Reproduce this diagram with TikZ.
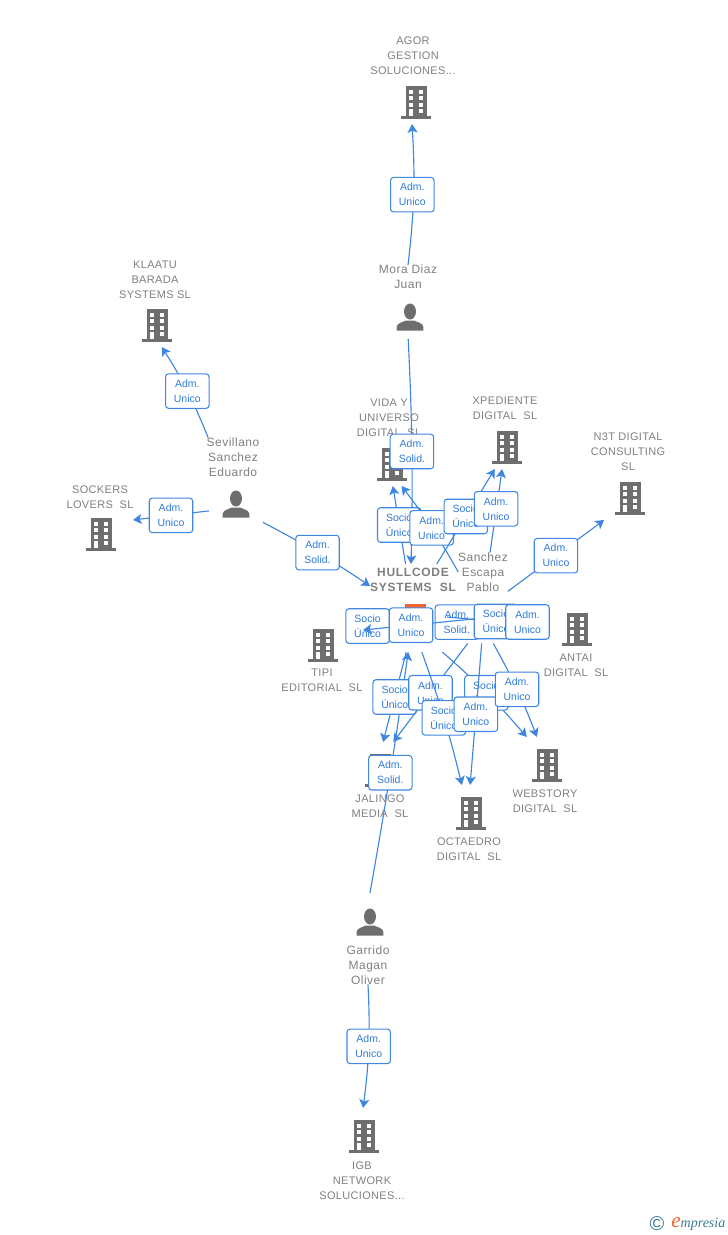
\documentclass[tikz,border=0pt]{standalone}
\usepackage{fontspec}
\usepackage{tikz}
\usetikzlibrary{arrows.meta}
\setmainfont{Liberation Sans}
\newfontfamily\firmfont[LetterSpace=3]{Liberation Sans}
\newfontfamily\personfont[LetterSpace=4]{Liberation Sans}
\newfontfamily\mainfirmfont[LetterSpace=6]{Liberation Sans}
\newfontfamily\brandfont{Liberation Serif}
\definecolor{iconGray}{HTML}{6E6E6E}
\definecolor{textGray}{HTML}{7F7F7F}
\definecolor{edgeBlue}{HTML}{3F86E0}
\definecolor{badgeText}{HTML}{2F7BDA}
\definecolor{mainOrange}{HTML}{F4622E}
\definecolor{brandBlue}{HTML}{3A7A96}
\newcommand{\firmicon}[1]{%
	\begin{scope}[shift={(path picture bounding box.center)}]
		\fill[#1] (-10.5,-13.5) rectangle (10.5,17);
		\fill[#1] (-15,16.5) rectangle (15,19.5);
		\foreach \rowy in {-9.5,-3,3.5} {
			\fill[white] (-7.2,\rowy) rectangle +(4.4,4.3);
			\fill[white] (2.8,\rowy) rectangle +(4.4,4.3);
		}
		\fill[white] (-7.2,9.7) rectangle (-2.8,16.5);
		\fill[white] (2.8,9.7) rectangle (7.2,14);
	\end{scope}}
\newcommand{\personicon}{%
	\begin{scope}[shift={(path picture bounding box.center)}]
		\fill[iconGray] (0,-2) ellipse [x radius=6,y radius=8];
		\fill[iconGray] (-13.3,17) -- (-13.3,13.5) .. controls (-13,9.5) and (-8,9) .. (-4,7) -- (4,7) .. controls (8,9) and (13,9.5) .. (13.3,13.5) -- (13.3,17) -- cycle;
	\end{scope}}
\tikzset{
	firm/.style={inner sep=0pt,outer sep=0pt,minimum width=48pt,minimum height=37.5pt,path picture={\firmicon{iconGray}}},
	mainfirm/.style={inner sep=0pt,outer sep=0pt,minimum width=48pt,minimum height=52.5pt,path picture={\firmicon{mainOrange}}},
	person/.style={inner sep=0pt,outer sep=0pt,minimum width=40.5pt,minimum height=38.25pt,path picture={\personicon}},
	firmlabel/.style={inner sep=0pt,outer sep=0pt,align=center,text=textGray,font=\firmfont\fontsize{8.25pt}{11.25pt}\selectfont},
	mainlabel/.style={inner sep=0pt,outer sep=0pt,align=center,text=textGray,minimum width=63pt,minimum height=24pt,font=\mainfirmfont\bfseries\fontsize{9pt}{11.25pt}\selectfont},
	personlabel/.style={inner sep=0pt,outer sep=0pt,align=center,text=textGray,font=\personfont\fontsize{9pt}{11.25pt}\selectfont},
	badge/.style={draw=edgeBlue,fill=white,line width=.8pt,rounded corners=2.25pt,inner sep=0pt,outer sep=0pt,minimum width=32.6pt,minimum height=25.9pt,align=center,text=badgeText,font=\fontsize{7.875pt}{11.25pt}\selectfont}
}
\begin{document}
\begin{tikzpicture}[x=0.75pt,y=-0.75pt,>/.tip={Stealth[length=6.5pt,width=7.5pt,inset=1.5pt]},every edge/.append style={draw=edgeBlue,line width=.85pt}]
	\useasboundingbox (0,0) rectangle (728,1235);

	% companies
	\draw (416,99) node (agor) [firm] {};
	\node [firmlabel] (agorlabel) at (413,56) {AGOR\\GESTION\\SOLUCIONES...};
	\draw (157,322) node (klaatu) [firm] {};
	\node [firmlabel] (klaatulabel) at (155,280) {KLAATU\\BARADA\\SYSTEMS SL};
	\draw (101,531) node (sockers) [firm] {};
	\node [firmlabel] (sockerslabel) at (100,497) {SOCKERS\\LOVERS~~SL};
	\draw (392,461) node (vida) [firm] {};
	\node [firmlabel] (vidalabel) at (389,418) {VIDA Y\\UNIVERSO\\DIGITAL~~SL};
	\draw (507,444) node (xpediente) [firm] {};
	\node [firmlabel] (xpedientelabel) at (505,408.5) {XPEDIENTE\\DIGITAL~~SL};
	\draw (630,495) node (nconsulting) [firm] {};
	\node [firmlabel] (nconsultinglabel) at (628,452) {N3T DIGITAL\\CONSULTING\\SL};
	\draw (323,642) node (tipi) [firm] {};
	\node [firmlabel] (tipilabel) at (322,680.5) {TIPI\\EDITORIAL~~SL};
	\draw (577,626) node (antai) [firm] {};
	\node [firmlabel] (antailabel) at (576,665.5) {ANTAI\\DIGITAL~~SL};
	\draw (547,762) node (webstory) [firm] {};
	\node [firmlabel] (webstorylabel) at (545,801.5) {WEBSTORY\\DIGITAL~~SL};
	\draw (471,810) node (octaedro) [firm] {};
	\node [firmlabel] (octaedrolabel) at (469,849.5) {OCTAEDRO\\DIGITAL~~SL};
	\draw (380,767) node (jalingo) [firm] {};
	\node [firmlabel] (jalingolabel) at (380,806.5) {JALINGO\\MEDIA~~SL};
	\draw (364,1133) node (igb) [firm] {};
	\node [firmlabel] (igblabel) at (362,1181) {IGB\\NETWORK\\SOLUCIONES...};
	\draw (415,617) node (hullcode) [mainfirm] {};
	\node [mainlabel] (hullcodelabel) at (413,580) {HULLCODE\\SYSTEMS~~SL};

	% people
	\draw (410,313.5) node (mora) [person] {};
	\node [personlabel] (moralabel) at (408,277) {Mora Diaz\\Juan};
	\draw (236,500.5) node (sevillano) [person] {};
	\node [personlabel] (sevillanolabel) at (233,457) {Sevillano\\Sanchez\\Eduardo};
	\draw (483,618) node (sanchez) [person] {};
	\node [personlabel] (sanchezlabel) at (483,572) {Sanchez\\Escapa\\Pablo};
	\draw (370,918.5) node (garrido) [person] {};
	\node [personlabel] (garridolabel) at (368,965) {Garrido\\Magan\\Oliver};

	\coordinate (tipiin) at (363,630);

	% upper half
	\path[->] (moralabel.north) edge [bend right=5] node [badge,xshift=-1pt] (moraagor) {Adm.\\Unico} (agor.261);
	\path[->] (sevillanolabel.142) edge [bend right=5] node [badge] (sevklaatu) {Adm.\\Unico} (klaatu.281);
	\path[->] (sevillano.201) edge node [badge] (sevsockers) {Adm.\\Unico} (sockers.19);
	\path[->] (sevillano.321) edge [bend left=3] node [badge] (sevhull) {Adm.\\Solid.} (hullcodelabel.188);
	\path[->] (mora.266) edge [bend left=2] node [badge] (morahull) {Adm.\\Solid.} (hullcodelabel.97);
	\path[->] (hullcodelabel.115) edge node [badge] (hullvida) {Socio\\Único} (vida.272);
	\path[->] (sanchezlabel.west) edge [bend right=4] node [badge] (sanvida) {Adm.\\Unico} (vida.291);
	\path[->] (hullcodelabel.34) edge node [badge] (hullxped) {Socio\\Único} (xpediente.244);
	\path[->] (sanchezlabel.70) edge node [badge,yshift=1.5pt] (sanxped) {Adm.\\Unico} (xpediente.259);
	\path[->] (sanchezlabel.322) edge node [badge] (sannthree) {Adm.\\Unico} (nconsulting.224);

	% around the main company
	\path[->] (hullcode.west) edge node [badge,pos=.55] (hulltipi) {Socio\\Único} (tipi.15);
	\path[->] (sanchez.west) edge node [badge,xshift=4pt,yshift=-3.5pt] (sanhull) {Adm.\\Solid.} (hullcode.east);
	\path[->] (sanchez.center) edge node [badge,pos=.6] (santipi) {Adm.\\Unico} (tipiin);
	\path[->] (hullcode.east) edge node [badge] (hullantai) {Socio\\Único} (antai.west);
	\path[->] (sanchez.east) edge node [badge] (sanantai) {Adm.\\Unico} (antai.west);

	% lower half
	\path[->] (garrido.north) edge [bend right=1] node [badge] (garhull) {Adm.\\Solid.} (hullcode.259);
	\path[->] (hullcode.256) edge node [badge] (hulljal) {Socio\\Único} (jalingo.83);
	\path[->] (sanchez.239) edge node [badge] (sanjal) {Adm.\\Unico} (jalingo.62);
	\path[->] (hullcode.281) edge [bend left=3] node [badge] (hullocta) {Socio\\Único} (octaedro.110);
	\path[->] (hullcode.308) edge [bend left=4] node [badge] (hullweb) {Socio\\Único} (webstory.129);
	\path[->] (sanchez.267) edge node [badge] (sanocta) {Adm.\\Unico} (octaedro.92);
	\path[->] (sanchez.292) edge [bend left=4] node [badge] (sanweb) {Adm.\\Unico} (webstory.112);
	\path[->] (garridolabel.south) edge [bend left=5] node [badge] (garigb) {Adm.\\Unico} (igb.92);

	% footer
	\node [text=brandBlue,font=\fontsize{15pt}{15pt}\selectfont] (copymark) at (657,1224) {©};
	\node [anchor=west,inner sep=0pt,text=brandBlue,font=\brandfont\itshape\fontsize{10.5pt}{12pt}\selectfont] (brand) at (671,1224) {{\color{mainOrange}\fontsize{16pt}{16pt}\selectfont e}mpresia};
\end{tikzpicture}
\end{document}
